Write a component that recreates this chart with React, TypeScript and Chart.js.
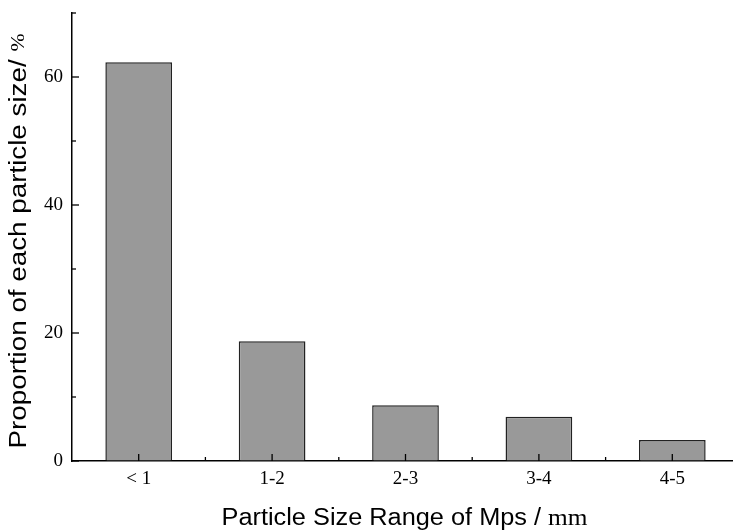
import React, { useEffect, useRef } from "react";
import { Chart, registerables } from "chart.js";

Chart.register(...registerables);

const categories = ["< 1", "1-2", "2-3", "3-4", "4-5"];
const proportions = [62.3, 18.7, 8.7, 6.9, 3.3];
const yMajorTicks = [0, 20, 40, 60];
const yMinorTicks = [10, 30, 50, 70];
const yMax = 70;
const xTitleMain = "Particle Size Range of Mps / ";
const xTitleUnit = "mm";
const yTitleMain = "Proportion of each particle size/ ";
const yTitleUnit = "%";

const SANS = '"Liberation Sans", Arial, sans-serif';
const SERIF = '"Liberation Serif", "Times New Roman", serif';

const axisDecor = {
  id: "axisDecor",
  afterDatasetsDraw(chart: any) {
    const { ctx, chartArea, scales } = chart;
    const x = scales.x;
    const y = scales.y;
    ctx.save();
    ctx.strokeStyle = "#000";
    ctx.lineWidth = 1.3;
    const line = (x1: number, y1: number, x2: number, y2: number) => {
      ctx.beginPath();
      ctx.moveTo(x1, y1);
      ctx.lineTo(x2, y2);
      ctx.stroke();
    };
    const b = chartArea.bottom;
    const l = chartArea.left;
    categories.forEach((_c, i) => {
      const px = x.getPixelForValue(i);
      line(px, b, px, b - 7);
      if (i < categories.length - 1) {
        const mid = (px + x.getPixelForValue(i + 1)) / 2;
        line(mid, b, mid, b - 4);
      }
    });
    yMajorTicks.forEach((v) => {
      const py = y.getPixelForValue(v);
      line(l, py, l + 7, py);
    });
    yMinorTicks.forEach((v) => {
      const py = y.getPixelForValue(v);
      line(l, py, l + 4, py);
    });
    ctx.restore();
  },
  afterDraw(chart: any) {
    const { ctx, chartArea } = chart;
    ctx.save();
    ctx.fillStyle = "#000";
    ctx.textBaseline = "alphabetic";
    ctx.textAlign = "left";
    const xf = 23;
    ctx.font = `${xf}px ${SANS}`;
    const w1 = ctx.measureText(xTitleMain).width;
    ctx.font = `${xf}px ${SERIF}`;
    const w2 = ctx.measureText(xTitleUnit).width;
    const kx = 366 / (w1 + w2);
    const cx = (chartArea.left + chartArea.right) / 2 - 1;
    ctx.save();
    ctx.translate(cx, 525);
    ctx.scale(kx, 1);
    const sx = -(w1 + w2) / 2;
    ctx.font = `${xf}px ${SANS}`;
    ctx.fillText(xTitleMain, sx, 0);
    ctx.font = `${xf}px ${SERIF}`;
    ctx.fillText(xTitleUnit, sx + w1, 0);
    ctx.restore();
    const yf = 23;
    ctx.font = `${yf}px ${SANS}`;
    const h1 = ctx.measureText(yTitleMain).width;
    ctx.font = `18px ${SERIF}`;
    const h2 = ctx.measureText(yTitleUnit).width;
    const ky = 415 / (h1 + h2);
    ctx.save();
    ctx.translate(26, 241);
    ctx.rotate(-Math.PI / 2);
    ctx.scale(ky, 1);
    const sy = -(h1 + h2) / 2;
    ctx.font = `${yf}px ${SANS}`;
    ctx.fillText(yTitleMain, sy, 0);
    ctx.font = `18px ${SERIF}`;
    ctx.fillText(yTitleUnit, sy + h1, -2);
    ctx.restore();
    ctx.restore();
  },
};

export default function App() {
  const ref = useRef<HTMLCanvasElement | null>(null);
  useEffect(() => {
    if (!ref.current) return;
    const chart = new Chart(ref.current, {
      type: "bar",
      data: {
        labels: categories,
        datasets: [
          {
            data: proportions,
            backgroundColor: "#999999",
            borderColor: "#222222",
            borderWidth: 1.5,
            barPercentage: 0.5,
            categoryPercentage: 1,
          },
        ],
      },
      options: {
        responsive: false,
        animation: false,
        layout: { padding: { top: 13, right: 6, left: 0, bottom: 0 } },
        plugins: {
          legend: { display: false },
          tooltip: { enabled: false },
          title: { display: false },
        },
        scales: {
          x: {
            offset: true,
            grid: { display: true, drawOnChartArea: false, drawTicks: false },
            border: { display: true, color: "#000", width: 1.5 },
            ticks: {
              color: "#000",
              padding: 7,
              font: { family: SERIF, size: 19 },
              maxRotation: 0,
            },
            afterFit: (s: any) => {
              s.height = 69;
              s.paddingLeft = 0;
              s.paddingRight = 0;
            },
          },
          y: {
            min: 0,
            max: yMax,
            grid: { display: true, drawOnChartArea: false, drawTicks: false },
            border: { display: true, color: "#000", width: 1.5 },
            ticks: {
              stepSize: 20,
              includeBounds: false,
              color: "#000",
              padding: 9,
              font: { family: SERIF, size: 19 },
            },
            afterFit: (s: any) => {
              s.width = 72;
              s.paddingTop = 0;
              s.paddingBottom = 0;
            },
          },
        },
      },
      plugins: [axisDecor],
    } as any);
    return () => chart.destroy();
  }, []);
  return (
    <div
      style={{
        position: "fixed",
        left: 0,
        top: 0,
        width: 733,
        height: 530,
        overflow: "hidden",
        background: "#fff",
      }}
    >
      <canvas ref={ref} width={745} height={530} style={{ display: "block" }} />
    </div>
  );
}
